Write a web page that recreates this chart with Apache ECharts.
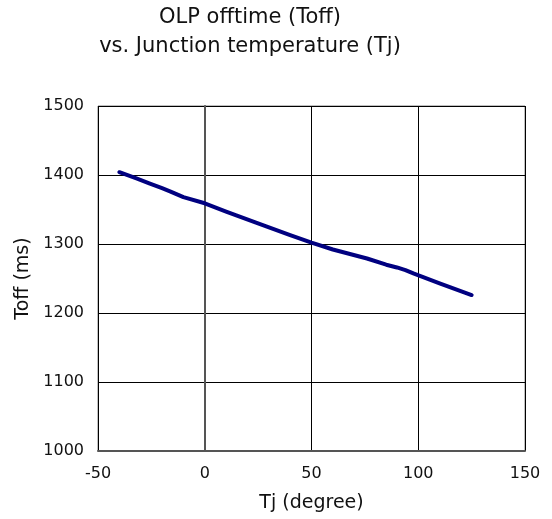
<!DOCTYPE html>
<html><head><meta charset="utf-8">
<script src="https://cdn.jsdelivr.net/npm/echarts@6/dist/echarts.min.js"></script>
<style>html,body{margin:0;padding:0;background:#fff}#c{width:552px;height:519px}</style>
</head><body><div id="c"></div>
<script>
const tj   = [-40, -32, -26, -20, -16, -10, 0, 10, 24, 40, 50, 60, 76, 85, 90, 94, 98, 110, 125];
const toff = [1404, 1395, 1388, 1381, 1376, 1368, 1359, 1347, 1331, 1313, 1302, 1292, 1279, 1270, 1266, 1262, 1257, 1243, 1226];
const xTicks = [-50, 0, 50, 100, 150];
const yTicks = [1000, 1100, 1200, 1300, 1400, 1500];
const titleLines = ['OLP offtime (Toff)', 'vs. Junction temperature (Tj)'];
const xName = 'Tj (degree)';
const yName = 'Toff (ms)';

const font = 'DejaVu Sans, Verdana, sans-serif';
const chart = echarts.init(document.getElementById('c'));
chart.setOption({
  animation: false,
  title: {
    text: titleLines.join('\n'),
    left: 245, top: -1.5, textAlign: 'center',
    textStyle: {fontFamily: font, fontSize: 21, fontWeight: 'normal', color: '#111', lineHeight: 28.5}
  },
  grid: {left: 98, right: 27, top: 106, bottom: 68, show: true, borderColor: '#808080', borderWidth: 1},
  xAxis: {
    type: 'value', min: xTicks[0], max: xTicks[xTicks.length-1], interval: 50,
    name: xName, nameLocation: 'middle', nameGap: 43,
    nameTextStyle: {fontFamily: font, fontSize: 19, color: '#111'},
    axisLine: {show: true, lineStyle: {color: '#555', width: 2}},
    axisTick: {show: false},
    axisLabel: {fontFamily: font, fontSize: 16, color: '#111', margin: 15, formatter: v => String(v)},
    splitLine: {show: true, lineStyle: {color: '#000', width: 1}}
  },
  yAxis: {
    type: 'value', min: yTicks[0], max: yTicks[yTicks.length-1], interval: 100,
    name: yName, nameLocation: 'middle', nameGap: 64, nameRotate: 90,
    nameTextStyle: {fontFamily: font, fontSize: 19, color: '#111'},
    axisLine: {show: true, lineStyle: {color: '#555', width: 2}},
    axisTick: {show: false},
    axisLabel: {fontFamily: font, fontSize: 16, color: '#111', margin: 14, formatter: v => String(v)},
    splitLine: {show: true, lineStyle: {color: '#000', width: 1}}
  },
  series: [{
    type: 'line', data: tj.map((x, i) => [x, toff[i]]),
    showSymbol: false, symbol: 'none',
    lineStyle: {color: '#000080', width: 4, cap: 'round', join: 'round'}
  }]
});
</script></body></html>
